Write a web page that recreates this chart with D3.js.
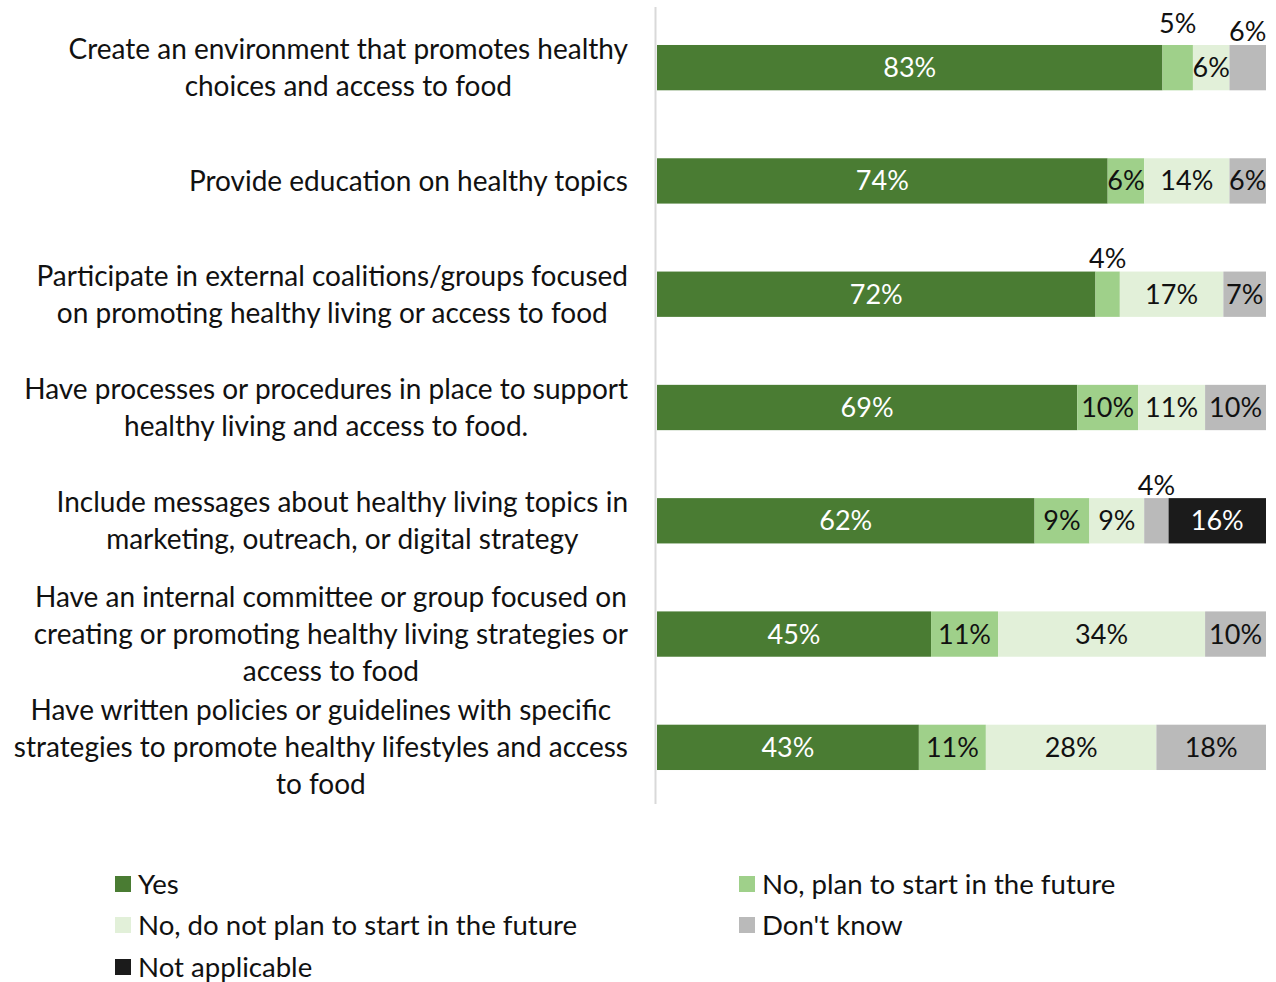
<!DOCTYPE html>
<html>
<head>
<meta charset="utf-8">
<script src="https://cdn.jsdelivr.net/npm/d3@7"></script>
<style>
  html, body { margin: 0; padding: 0; background: #fff; }
  svg text { font-family: Lato, "Noto Sans", sans-serif; }
</style>
</head>
<body>
<svg id="chart" width="1276" height="982"></svg>
<script>
// Survey categories (each entry is the list of wrapped lines)
const categories = [
  ["Create an environment that promotes healthy", "choices and access to food"],
  ["Provide education on healthy topics"],
  ["Participate in external coalitions/groups focused", "on promoting healthy living or access to food"],
  ["Have processes or procedures in place to support", "healthy living and access to food."],
  ["Include messages about healthy living topics in", "marketing, outreach, or digital strategy"],
  ["Have an internal committee or group focused on", "creating or promoting healthy living strategies or", "access to food"],
  ["Have written policies or guidelines with specific", "strategies to promote healthy lifestyles and access", "to food"]
];

const seriesNames = ["Yes", "No, plan to start in the future", "No, do not plan to start in the future", "Don't know", "Not applicable"];

// Percent per category for each response
const yesValues     = [83, 74, 72, 69, 62, 45, 43];
const planValues    = [5, 6, 4, 10, 9, 11, 11];
const noPlanValues  = [6, 14, 17, 11, 9, 34, 28];
const dontKnowVals  = [6, 6, 7, 10, 4, 10, 18];
const notApplicable = [0, 0, 0, 0, 16, 0, 0];

const seriesColors = ["#4a7c33", "#9fd08a", "#e2f0d9", "#bababa", "#1b1b1b"];
const labelColors  = ["#ffffff", "#111111", "#111111", "#111111", "#ffffff"];

// Small segments whose value label sits above the bar: [row, series]
const labelsAbove = [[0, 1], [0, 3], [2, 1], [4, 3]];

const allSeries = [yesValues, planValues, noPlanValues, dontKnowVals, notApplicable];

const svg = d3.select("#chart");
const plotLeft = 657, plotRight = 1266, plotTop = 11, plotBottom = 804;

const x = d3.scaleLinear().domain([0, 100]).range([plotLeft, plotRight]);
const y = d3.scaleBand().domain(d3.range(categories.length)).range([plotTop, plotBottom]).paddingInner(0.6).paddingOuter(0.3);

// Build stacked rows
const rows = categories.map((c, i) => {
  const o = { idx: i };
  seriesNames.forEach((s, j) => o[s] = allSeries[j][i]);
  return o;
});
const stacked = d3.stack().keys(seriesNames)(rows);

// Vertical axis line
svg.append("line")
  .attr("x1", plotLeft - 1.5).attr("x2", plotLeft - 1.5)
  .attr("y1", 7).attr("y2", plotBottom)
  .attr("stroke", "#d9d9d9").attr("stroke-width", 2);

const layers = svg.append("g").selectAll("g").data(stacked).join("g")
  .attr("fill", (d, i) => seriesColors[i]);

layers.selectAll("rect").data(d => d.filter(p => p[1] - p[0] > 0)).join("rect")
  .attr("x", d => x(d[0]))
  .attr("width", d => x(d[1]) - x(d[0]))
  .attr("y", d => y(d.data.idx))
  .attr("height", y.bandwidth());

// Value labels
const isAbove = (r, s) => labelsAbove.some(a => a[0] === r && a[1] === s);
const labelG = svg.append("g").attr("font-size", 27);
stacked.forEach((layer, s) => {
  layer.forEach(p => {
    const v = p[1] - p[0];
    if (v <= 0) return;
    const r = p.data.idx;
    const cx = x((p[0] + p[1]) / 2);
    const above = isAbove(r, s);
    // stagger when another label further right in this row also sits above
    const stagger = above && labelsAbove.some(a => a[0] === r && a[1] > s) ? 8 : 0;
    labelG.append("text")
      .attr("x", cx)
      .attr("y", above ? y(r) - 13 - stagger : y(r) + y.bandwidth() / 2)
      .attr("dy", "0.35em")
      .attr("text-anchor", "middle")
      .attr("fill", above ? "#111" : labelColors[s])
      .text(v + "%");
  });
});

// Category labels: block right-aligned, lines centered within the block
const lineH = 37;
const catG = svg.append("g").attr("font-size", 28).attr("fill", "#111");
categories.forEach((lines, i) => {
  const g = catG.append("g");
  const texts = lines.map((ln, k) => g.append("text")
    .attr("y", y(i) + y.bandwidth() / 2 + (k - (lines.length - 1) / 2) * lineH)
    .attr("dy", "0.35em")
    .attr("text-anchor", "middle")
    .text(ln));
  const widths = texts.map(t => t.node().getComputedTextLength());
  const maxW = d3.max(widths);
  const center = 628 - maxW / 2;
  texts.forEach(t => t.attr("x", center));
});

// Legend
const legendPos = [[115, 884], [739, 884], [115, 925], [739, 925], [115, 967]];
const legG = svg.append("g").attr("font-size", 27.6).attr("fill", "#111");
seriesNames.forEach((name, i) => {
  const [lx, ly] = legendPos[i];
  legG.append("rect").attr("x", lx).attr("y", ly - 8).attr("width", 16).attr("height", 16).attr("fill", seriesColors[i]);
  legG.append("text").attr("x", lx + 23).attr("y", ly).attr("dy", "0.35em").text(name);
});
</script>
</body>
</html>
